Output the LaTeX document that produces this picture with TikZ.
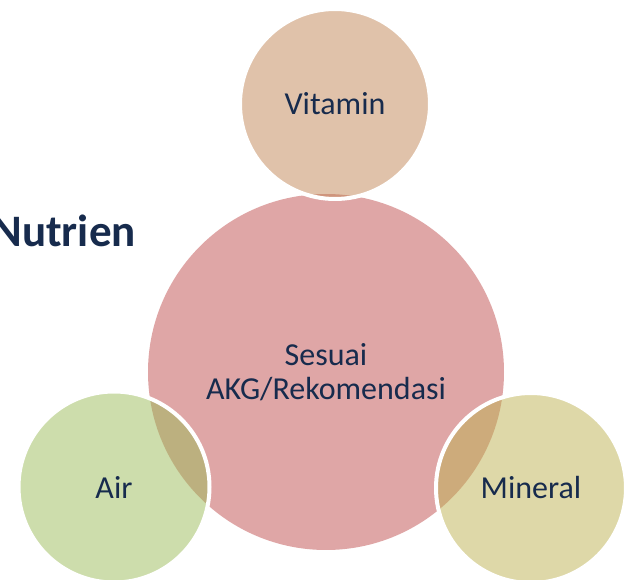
\documentclass[tikz,border=0pt]{standalone}
\usepackage{fontspec}
\setmainfont{Carlito}
\usepackage[]{tikz}
\usetikzlibrary{positioning}
\definecolor{navytext}{RGB}{23,43,77}
\definecolor{akgpink}{RGB}{223,166,166}
\definecolor{vitbrown}{RGB}{193,133,85}
\definecolor{airgreen}{RGB}{155,187,89}
\definecolor{minolive}{RGB}{189,177,81}
\tikzset{hub/.style={circle,fill=akgpink,inner sep=0pt,outer sep=0pt,align=center,text=navytext,font=\fontsize{32}{34}\selectfont}}
\tikzset{satellite/.style={circle,draw=white,line width=4pt,draw opacity=1,fill opacity=0.5,text opacity=1,inner sep=0pt,outer sep=0pt,text=navytext,font=\fontsize{32}{34}\selectfont}}

\begin{document}
\begin{tikzpicture}[x=1pt,y=-1pt]
            \clip (0,0) rectangle (633,580);
            \node[hub,minimum size=356pt] (akg) at (326,372) {Sesuai\\AKG/Rekomendasi};
            \node[satellite,fill=vitbrown,minimum size=190pt] (vitamin) at (335,104) {Vitamin};
            \node[satellite,fill=airgreen,minimum size=191pt] (air) at (114,487) {Air};
            \node[satellite,fill=minolive,minimum size=190pt] (mineral) at (531,488) {Mineral};
            \node[anchor=base east,text=navytext,font=\fontsize{45}{50}\selectfont\bfseries,inner sep=0pt] (nutrien) at (136,247) {Nutrien};
        \end{tikzpicture}
\end{document}
